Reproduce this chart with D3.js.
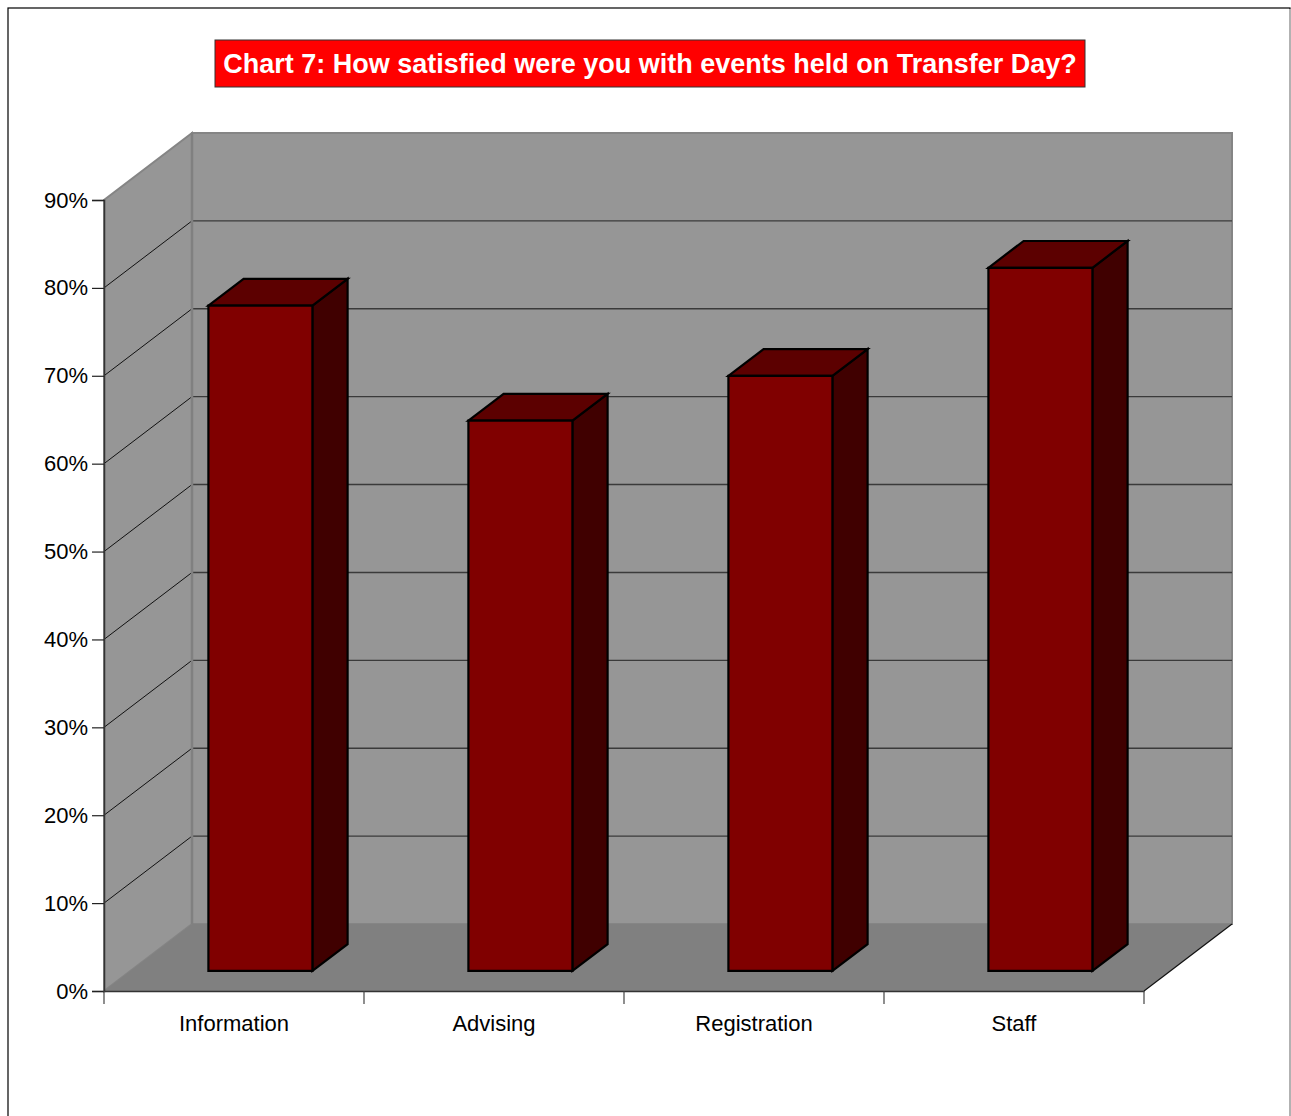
<!DOCTYPE html>
<html>
<head>
<meta charset="utf-8">
<script src="https://cdnjs.cloudflare.com/ajax/libs/d3/7.8.5/d3.min.js"></script>
<style>
  html, body { margin: 0; padding: 0; background: #fff; }
  svg { display: block; }
</style>
</head>
<body>
<script>
// Survey results
const categories = ["Information", "Advising", "Registration", "Staff"];
const satisfied = [75.7, 62.6, 67.7, 80.0];
const yTicks = [0, 10, 20, 30, 40, 50, 60, 70, 80, 90];
const titleText = "Chart 7: How satisfied were you with events held on Transfer Day?";

const W = 1291, H = 1116;
const FONT = "Liberation Sans, Arial, sans-serif";
const svg = d3.select("body").append("svg").attr("width", W).attr("height", H);

// Outer frame
svg.append("rect").attr("x", 8).attr("y", 8).attr("width", 1282).attr("height", 1120)
  .attr("fill", "#fff").attr("stroke", "#000").attr("stroke-width", 1.2);
svg.append("line").attr("x1", 1290).attr("x2", 1290).attr("y1", 9).attr("y2", H)
  .attr("stroke", "#ccc").attr("stroke-width", 1.5);

// Front plane scales and depth projection
const x = d3.scaleBand().domain(categories).range([104, 1144]).paddingInner(0).paddingOuter(0);
const y = d3.scaleLinear().domain([0, 90]).range([991, 200]);
const DX = 88, DY = 67;
const P = (px, py, z) => [px + DX * z, py - DY * z];
const poly = pts => "M" + pts.map(p => p.join(",")).join("L") + "Z";

const g = svg.append("g");

// Back wall
g.append("path")
  .attr("d", poly([P(x.range()[0], y(90), 1), P(x.range()[1], y(90), 1), P(x.range()[1], y(0), 1), P(x.range()[0], y(0), 1)]))
  .attr("fill", "#969696").attr("stroke", "#858585").attr("stroke-width", 2);

// Side wall
g.append("path")
  .attr("d", poly([P(104, y(0), 0), P(104, y(90), 0), P(104, y(90), 1), P(104, y(0), 1)]))
  .attr("fill", "#969696").attr("stroke", "#858585").attr("stroke-width", 2);

// Floor
g.append("path")
  .attr("d", poly([P(104, y(0), 0), P(1144, y(0), 0), P(1144, y(0), 1), P(104, y(0), 1)]))
  .attr("fill", "#808080");
// Floor right edge
g.append("line")
  .attr("x1", P(1144, y(0), 0)[0]).attr("y1", P(1144, y(0), 0)[1])
  .attr("x2", P(1144, y(0), 1)[0]).attr("y2", P(1144, y(0), 1)[1])
  .attr("stroke", "#111").attr("stroke-width", 1.2);

// Gridlines on back wall and side wall
yTicks.filter(t => t > 0 && t < 90).forEach(t => {
  const a = P(104, y(t), 1), b = P(1144, y(t), 1), c = P(104, y(t), 0);
  g.append("line").attr("x1", a[0]).attr("y1", a[1]).attr("x2", b[0]).attr("y2", b[1])
    .attr("stroke", "#3a3a3a").attr("stroke-width", 1.4);
  g.append("line").attr("x1", c[0]).attr("y1", c[1]).attr("x2", a[0]).attr("y2", a[1])
    .attr("stroke", "#111").attr("stroke-width", 1);
});
// Corner edge between side wall and back wall
g.append("line")
  .attr("x1", P(104, y(0), 1)[0]).attr("y1", P(104, y(0), 1)[1])
  .attr("x2", P(104, y(90), 1)[0]).attr("y2", P(104, y(90), 1)[1])
  .attr("stroke", "#808080").attr("stroke-width", 2.5);

// Axes
const yAxis = d3.axisLeft(y).tickValues(yTicks).tickFormat(d => d + "%").tickSize(12).tickPadding(4);
const ya = svg.append("g").attr("transform", "translate(104,0)").call(yAxis);
ya.select(".domain").attr("stroke", "#333").attr("stroke-width", 1.5);
ya.selectAll(".tick line").attr("stroke", "#222").attr("stroke-width", 1.2);
ya.selectAll(".tick text").attr("font-family", FONT)
  .attr("font-size", 22).attr("fill", "#000");

const xAxis = d3.axisBottom(x).tickSize(0).tickPadding(24);
const xa = svg.append("g").attr("transform", "translate(0,991)").call(xAxis);
xa.select(".domain").attr("stroke", "#333").attr("stroke-width", 1.5);
xa.selectAll(".tick text").attr("font-family", FONT)
  .attr("font-size", 22).attr("fill", "#000").attr("dy", "0.71em");
// Category boundary ticks
const bounds = categories.map(c => x(c)).concat([x.range()[1]]);
xa.selectAll(".bound").data(bounds).join("line").attr("class", "bound")
  .attr("x1", d => d).attr("x2", d => d).attr("y1", 0).attr("y2", 13)
  .attr("stroke", "#444").attr("stroke-width", 1.2);

// 3D bars
const barW = x.bandwidth() * 0.4;
const z0 = 0.3, z1 = 0.7;
const bars = svg.append("g");
categories.forEach((c, i) => {
  const x0 = x(c) + (x.bandwidth() - barW) / 2, x1 = x0 + barW;
  const v = satisfied[i];
  const sty = sel => sel.attr("stroke", "#000").attr("stroke-width", 2.2).attr("stroke-linejoin", "miter");
  // right side
  bars.append("path").attr("d", poly([P(x1, y(0), z0), P(x1, y(0), z1), P(x1, y(v), z1), P(x1, y(v), z0)]))
    .attr("fill", "#400000").call(sty);
  // top
  bars.append("path").attr("d", poly([P(x0, y(v), z0), P(x1, y(v), z0), P(x1, y(v), z1), P(x0, y(v), z1)]))
    .attr("fill", "#5c0000").call(sty);
  // front
  bars.append("path").attr("d", poly([P(x0, y(0), z0), P(x1, y(0), z0), P(x1, y(v), z0), P(x0, y(v), z0)]))
    .attr("fill", "#800000").call(sty);
});

// Title
const tg = svg.append("g");
tg.append("rect").attr("x", 215).attr("y", 40).attr("width", 870).attr("height", 47)
  .attr("fill", "#ff0000").attr("stroke", "#333").attr("stroke-width", 1);
tg.append("text").attr("x", 650).attr("y", 73).attr("text-anchor", "middle")
  .attr("font-family", FONT).attr("font-weight", "bold")
  .attr("font-size", 27).attr("fill", "#fff").text(titleText);
</script>
</body>
</html>
